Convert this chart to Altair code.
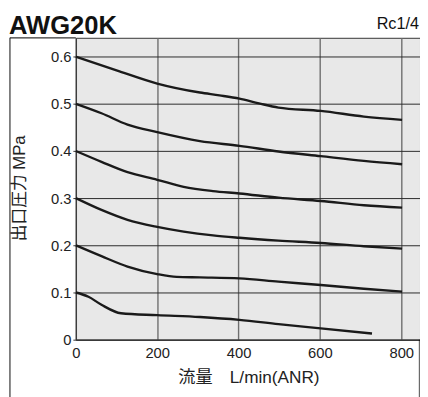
import altair as alt
import pandas as pd

# ---- data ----
c01_x = [0, 31, 63, 111, 200, 305, 402, 498, 602, 728]
c01_y = [0.100, 0.091, 0.074, 0.056, 0.052, 0.048, 0.042, 0.033, 0.024, 0.013]
c02_x = [0, 63, 127, 200, 248, 305, 402, 498, 602, 708, 802]
c02_y = [0.200, 0.177, 0.155, 0.139, 0.133, 0.132, 0.130, 0.123, 0.116, 0.108, 0.102]
c03_x = [0, 63, 127, 200, 265, 337, 402, 498, 602, 708, 802]
c03_y = [0.300, 0.275, 0.254, 0.239, 0.229, 0.221, 0.216, 0.210, 0.205, 0.198, 0.193]
c04_x = [0, 63, 127, 200, 265, 337, 402, 498, 602, 708, 802]
c04_y = [0.400, 0.377, 0.355, 0.339, 0.324, 0.315, 0.310, 0.301, 0.294, 0.285, 0.280]
c05_x = [0, 63, 127, 200, 305, 402, 498, 602, 708, 802]
c05_y = [0.500, 0.480, 0.456, 0.440, 0.421, 0.411, 0.399, 0.389, 0.379, 0.372]
c06_x = [0, 100, 200, 305, 353, 402, 450, 498, 602, 708, 802]
c06_y = [0.600, 0.571, 0.543, 0.524, 0.518, 0.511, 0.501, 0.492, 0.485, 0.473, 0.466]

x_ticks = [0, 200, 400, 600, 800]
y_ticks = [0, 0.1, 0.2, 0.3, 0.4, 0.5, 0.6]

title_text = "AWG20K"
port_text = "Rc1/4"
x_title = "流量\u3000L/min(ANR)"
y_title = "出口圧力 MPa"

curves = [("0.1", c01_x, c01_y), ("0.2", c02_x, c02_y), ("0.3", c03_x, c03_y),
          ("0.4", c04_x, c04_y), ("0.5", c05_x, c05_y), ("0.6", c06_x, c06_y)]
rows = []
for name, xs, ys in curves:
    for i, (a, b) in enumerate(zip(xs, ys)):
        rows.append({"set": name, "flow": a, "p": b, "order": i})
df = pd.DataFrame(rows)

W, H = 350, 307
X_MAX, Y_MAX = 846, 0.64
LAT = "Liberation Sans, Arial, Helvetica, sans-serif"
CJK = "Liberation Sans, Noto Sans CJK JP, sans-serif"

xscale = alt.Scale(domain=[0, X_MAX], nice=False, zero=False)
yscale = alt.Scale(domain=[0, Y_MAX], nice=False)

lines = alt.Chart(df).mark_line(color="#1a1a1a", strokeWidth=2.4, interpolate="monotone").encode(
    x=alt.X("flow:Q", scale=xscale, axis=alt.Axis(
        values=x_ticks, title=None, grid=True, gridColor="#6e6e6e", gridWidth=1.4,
        ticks=False, labelPadding=6, labelFontSize=15, labelFont=LAT, labelColor="#222",
        domainColor="#333", domainWidth=1, labelFlush=False)),
    y=alt.Y("p:Q", scale=yscale, axis=alt.Axis(
        values=y_ticks, title=None, grid=True, gridColor="#2a2a2a", gridWidth=1,
        tickSize=3, tickColor="#333", labelPadding=2, labelFontSize=15, labelFont=LAT,
        labelColor="#222", domainColor="#333", domainWidth=1, labelFlush=False,
        labelExpr="datum.value == 0 ? '0' : format(datum.value, '.1f')")),
    detail="set:N",
    order="order:Q",
)

one = alt.Data(values=[{"k": 1}])

# outer frame around the whole figure (decoration, positioned through the scales)
FRAME_LEFT = -162      # flow units, left of the axis
FRAME_BOTTOM = -0.2    # pressure units, below the page edge
left_edge = alt.Chart(one).mark_rule(color="black", opacity=0.8, strokeWidth=1.2).encode(
    x=alt.datum(FRAME_LEFT), y=alt.datum(Y_MAX), y2=alt.datum(FRAME_BOTTOM))
top_edge = alt.Chart(one).mark_rule(color="black", opacity=0.8, strokeWidth=1.2).encode(
    x=alt.datum(FRAME_LEFT), x2=alt.datum(0), y=alt.datum(Y_MAX))
right_edge = alt.Chart(one).mark_rule(color="black", opacity=0.6, strokeWidth=1.2).encode(
    x=alt.datum(X_MAX - 1.5), y=alt.datum(0), y2=alt.datum(FRAME_BOTTOM))

t_title = alt.Chart(one).mark_text(text=title_text, font=LAT, fontSize=26, fontWeight="bold",
                                   align="left", baseline="alphabetic", color="#111").encode(
    x=alt.value(-68), y=alt.value(-3.5))
t_port = alt.Chart(one).mark_text(text=port_text, font=LAT, fontSize=16.5,
                                  align="right", baseline="alphabetic", color="#111").encode(
    x=alt.value(W - 1), y=alt.value(-8.5))
t_x = alt.Chart(one).mark_text(text=x_title, font=CJK, fontSize=17.5,
                               align="center", baseline="alphabetic", color="#222").encode(
    x=alt.value(176), y=alt.value(H + 44))
t_y = alt.Chart(one).mark_text(text=y_title, font=CJK, fontSize=17, angle=270,
                               align="center", baseline="middle", color="#222").encode(
    x=alt.value(-57), y=alt.value(153))

chart = alt.layer(lines, left_edge, top_edge, right_edge, t_title, t_port, t_x, t_y).properties(
    width=W, height=H,
    autosize=alt.AutoSizeParams(type="none"),
    padding={"left": 69, "top": 27, "right": 0, "bottom": 55},
    background="white",
).configure_view(fill="#e8e8e8", stroke="#333", strokeWidth=1)

chart.save("out.html", embed_options={"renderer": "svg", "actions": False})
